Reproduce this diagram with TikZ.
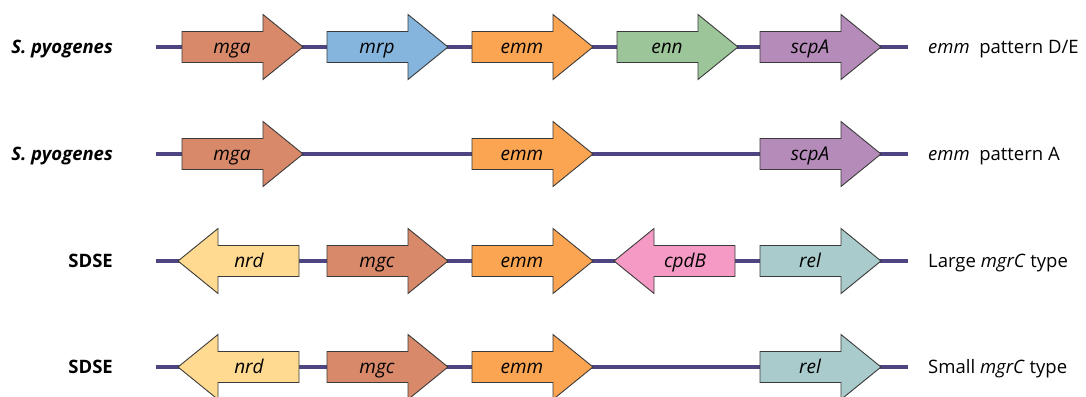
\documentclass[tikz,border=0pt]{standalone}
\usepackage{fontspec}
\setmainfont{Open Sans}
\definecolor{cmga}{HTML}{D8896A}
\definecolor{cmrp}{HTML}{85B5DD}
\definecolor{cemm}{HTML}{FBA553}
\definecolor{cenn}{HTML}{9DC59A}
\definecolor{cscp}{HTML}{B58BBA}
\definecolor{cnrd}{HTML}{FFDA90}
\definecolor{ccpd}{HTML}{F59AC4}
\definecolor{crel}{HTML}{AACBCC}
\definecolor{lineblue}{HTML}{4C4581}
\definecolor{outline}{HTML}{3A3A3A}
\tikzset{
  backbone/.style={line width=3.3pt, draw=lineblue},
  genebox/.style={draw=outline, line width=0.9pt, line join=miter},
  genelabel/.style={font=\fontsize{19}{22}\selectfont\itshape, anchor=base, inner sep=0pt},
  strain/.style={font=\fontsize{18.5}{22}\selectfont\bfseries, anchor=base east, inner sep=0pt},
  typelab/.style={font=\fontsize{18.5}{22}\selectfont, anchor=base west, inner sep=0pt},
}
% #1 x left, #2 y centre, #3 fill, #4 label, #5 name
\newcommand{\generight}[5]{%
  \draw[genebox,fill=#3] (#1,#2-15.5) -- (#1+81,#2-15.5) -- (#1+81,#2-32.5) -- (#1+121,#2)
     -- (#1+81,#2+32.5) -- (#1+81,#2+15.5) -- (#1,#2+15.5) -- cycle;
  \node[genelabel] (#5) at (#1+50,#2+6) {#4};}
% #1 x tip
\newcommand{\geneleft}[5]{%
  \draw[genebox,fill=#3] (#1,#2) -- (#1+40,#2-32.5) -- (#1+40,#2-15.5) -- (#1+121,#2-15.5)
     -- (#1+121,#2+15.5) -- (#1+40,#2+15.5) -- (#1+40,#2+32.5) -- cycle;
  \node[genelabel] (#5) at (#1+71,#2+6) {#4};}
\begin{document}
\begin{tikzpicture}[x=1pt,y=-1pt]
\useasboundingbox (0,0) rectangle (1086,396);
\clip (0,0) rectangle (1086,396);
% backbones
\foreach \r/\y in {1/47,2/154,3/261,4/367}{
  \coordinate (s\r) at (156,\y);
  \coordinate (e\r) at (908,\y);
  \draw[backbone] (s\r) -- (e\r);
}
% row 1
\node[strain] (sp1) at (113,53) {\itshape S. pyogenes};
\generight{182}{47}{cmga}{mga}{mga1}
\generight{327}{47}{cmrp}{mrp}{mrp1}
\generight{472}{47}{cemm}{emm}{emm1}
\generight{617}{47}{cenn}{enn}{enn1}
\generight{760}{47}{cscp}{scpA}{scp1}
\node[typelab] (t1) at (928,53) {\textit{emm}\ \ pattern D/E};
% row 2
\node[strain] (sp2) at (113,160) {\itshape S. pyogenes};
\generight{182}{154}{cmga}{mga}{mga2}
\generight{472}{154}{cemm}{emm}{emm2}
\generight{760}{154}{cscp}{scpA}{scp2}
\node[typelab] (t2) at (928,160) {\textit{emm}\ \ pattern A};
% row 3
\node[strain] (sd3) at (113,267) {SDSE};
\geneleft{178}{261}{cnrd}{nrd}{nrd3}
\generight{327}{261}{cmga}{mgc}{mgc3}
\generight{472}{261}{cemm}{emm}{emm3}
\geneleft{614}{261}{ccpd}{cpdB}{cpd3}
\generight{760}{261}{crel}{rel}{rel3}
\node[typelab] (t3) at (928,267) {Large \textit{mgrC} type};
% row 4
\node[strain] (sd4) at (113,373) {SDSE};
\geneleft{178}{367}{cnrd}{nrd}{nrd4}
\generight{327}{367}{cmga}{mgc}{mgc4}
\generight{472}{367}{cemm}{emm}{emm4}
\generight{760}{367}{crel}{rel}{rel4}
\node[typelab] (t4) at (928,373) {Small \textit{mgrC} type};
\end{tikzpicture}
\end{document}
